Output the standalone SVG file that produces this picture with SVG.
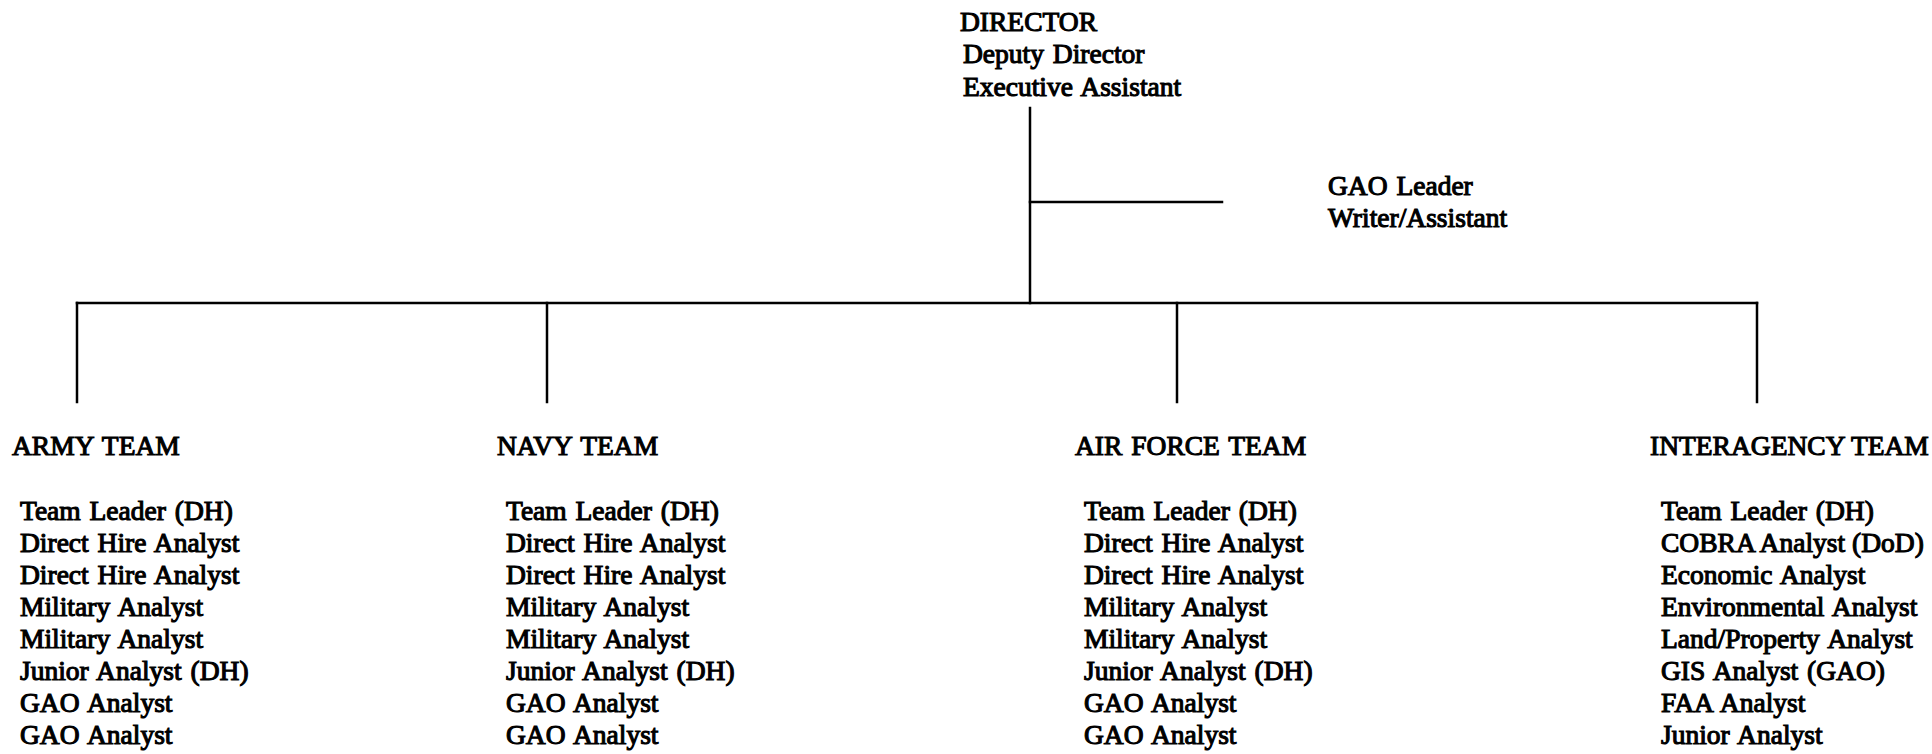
<svg xmlns="http://www.w3.org/2000/svg" width="1932" height="754" viewBox="0 0 1932 754">
<style>
  text { font-family: "Liberation Serif", "Times New Roman", serif; font-size: 27.5px; fill: #000; stroke: #000; stroke-width: 1.1; word-spacing: 2px; }
  .tight { word-spacing: 0; }
  .ln { stroke: #000; stroke-width: 2.5; fill: none; stroke-linecap: square; }
</style>
<rect width="1932" height="754" fill="#fff"/>
<g id="connectors">
  <line class="ln" x1="1030" y1="108" x2="1030" y2="303"/>
  <line class="ln" x1="1030" y1="202" x2="1222" y2="202"/>
  <line class="ln" x1="77" y1="303" x2="1757" y2="303"/>
  <line class="ln" x1="77" y1="303" x2="77" y2="402"/>
  <line class="ln" x1="547" y1="303" x2="547" y2="402"/>
  <line class="ln" x1="1177" y1="303" x2="1177" y2="402"/>
  <line class="ln" x1="1757" y1="303" x2="1757" y2="402"/>
</g>
<g id="director">
  <text x="960" y="31">DIRECTOR</text>
  <text x="963" y="63">Deputy Director</text>
  <text x="963" y="96">Executive Assistant</text>
</g>
<g id="gao-leader">
  <text x="1328" y="195">GAO Leader</text>
  <text x="1328" y="227">Writer/Assistant</text>
</g>
<g id="army-team">
  <text x="12" y="455">ARMY TEAM</text>
  <text x="20" y="520">Team Leader (DH)</text>
  <text x="20" y="552">Direct Hire Analyst</text>
  <text x="20" y="584">Direct Hire Analyst</text>
  <text x="20" y="616">Military Analyst</text>
  <text x="20" y="648">Military Analyst</text>
  <text x="20" y="680">Junior Analyst (DH)</text>
  <text x="20" y="712">GAO Analyst</text>
  <text x="20" y="744">GAO Analyst</text>
</g>
<g id="navy-team">
  <text x="497" y="455">NAVY TEAM</text>
  <text x="506" y="520">Team Leader (DH)</text>
  <text x="506" y="552">Direct Hire Analyst</text>
  <text x="506" y="584">Direct Hire Analyst</text>
  <text x="506" y="616">Military Analyst</text>
  <text x="506" y="648">Military Analyst</text>
  <text x="506" y="680">Junior Analyst (DH)</text>
  <text x="506" y="712">GAO Analyst</text>
  <text x="506" y="744">GAO Analyst</text>
</g>
<g id="air-force-team">
  <text x="1075" y="455">AIR FORCE TEAM</text>
  <text x="1084" y="520">Team Leader (DH)</text>
  <text x="1084" y="552">Direct Hire Analyst</text>
  <text x="1084" y="584">Direct Hire Analyst</text>
  <text x="1084" y="616">Military Analyst</text>
  <text x="1084" y="648">Military Analyst</text>
  <text x="1084" y="680">Junior Analyst (DH)</text>
  <text x="1084" y="712">GAO Analyst</text>
  <text x="1084" y="744">GAO Analyst</text>
</g>
<g id="interagency-team">
  <text class="tight" x="1650" y="455">INTERAGENCY TEAM</text>
  <text x="1661" y="520">Team Leader (DH)</text>
  <text class="tight" x="1661" y="552">COBRA Analyst (DoD)</text>
  <text x="1661" y="584">Economic Analyst</text>
  <text x="1661" y="616">Environmental Analyst</text>
  <text x="1661" y="648">Land/Property Analyst</text>
  <text x="1661" y="680">GIS Analyst (GAO)</text>
  <text x="1661" y="712">FAA Analyst</text>
  <text x="1661" y="744">Junior Analyst</text>
</g>
</svg>
